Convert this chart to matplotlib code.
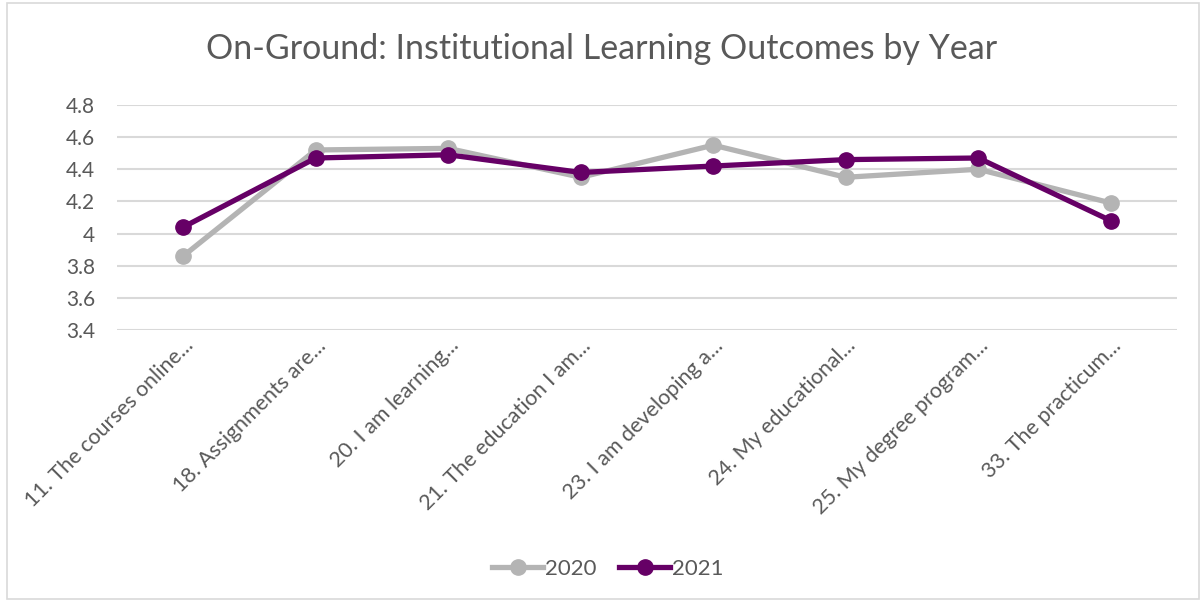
import numpy as np
import matplotlib.pyplot as plt
from matplotlib.patches import Rectangle

# data
categories = ['11. The courses online...', '18. Assignments are...', '20. I am learning...',
              '21. The education I am...', '23. I am developing a...', '24. My educational...',
              '25. My degree program...', '33. The practicum...']
y2020 = [3.86, 4.52, 4.53, 4.35, 4.55, 4.35, 4.40, 4.19]
y2021 = [4.04, 4.47, 4.49, 4.38, 4.42, 4.46, 4.47, 4.08]
yticks = [3.4, 3.6, 3.8, 4.0, 4.2, 4.4, 4.6, 4.8]
ytick_labels = ['3.4', '3.6', '3.8', '4', '4.2', '4.4', '4.6', '4.8']

plt.rcParams['font.family'] = ['Lato', 'DejaVu Sans']
txt = '#595959'

fig = plt.figure(figsize=(12.04, 6.02), dpi=100)
ax = fig.add_axes([0.0972, 0.452, 0.8804, 0.3736])

x = np.arange(len(categories))
ax.plot(x, y2020, color='#B4B4B4', lw=3.8, marker='o', ms=11, label='2020',
        solid_joinstyle='round', zorder=3)
ax.plot(x, y2021, color='#660066', lw=3.8, marker='o', ms=11, label='2021',
        solid_joinstyle='round', zorder=4)

ax.set_xlim(-0.5, len(categories) - 0.5)
ax.set_ylim(3.4, 4.8)
ax.set_yticks(yticks)
ax.set_yticklabels(ytick_labels)
ax.yaxis.grid(True, color='#D9D9D9', lw=1.5)
ax.set_axisbelow(True)
for s in ax.spines.values():
    s.set_visible(False)
ax.tick_params(axis='both', length=0, colors=txt)
ax.tick_params(axis='y', pad=16, labelsize=15)

ax.set_xticks(x)
ax.set_xticklabels(categories, rotation=45, ha='right', rotation_mode='anchor')
ax.tick_params(axis='x', pad=4, labelsize=15.5)

fig.suptitle('On-Ground: Institutional Learning Outcomes by Year', y=0.945,
             fontsize=24.5, color=txt)

leg = fig.legend(loc='center', bbox_to_anchor=(0.505, 0.055), ncol=2, frameon=False,
                 fontsize=16, labelcolor=txt, handlelength=2.3, handletextpad=0.1,
                 columnspacing=1.0)

# chart border
fig.patches.append(Rectangle((0.006, 0.005), 0.99, 0.99, transform=fig.transFigure,
                             fill=False, edgecolor='#D9D9D9', lw=1.2))

plt.savefig('out.png')
